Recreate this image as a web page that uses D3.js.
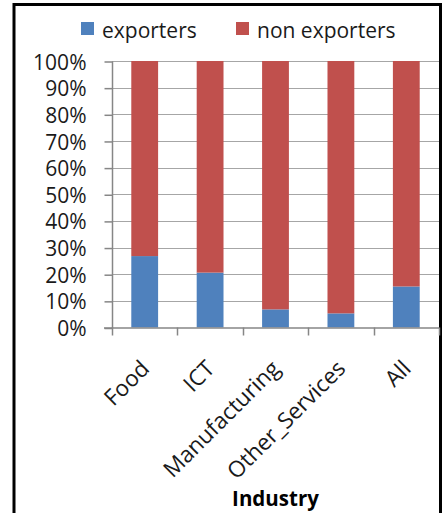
<!DOCTYPE html>
<html>
<head>
<meta charset="utf-8">
<script src="https://cdn.jsdelivr.net/npm/d3@7"></script>
<style>
  html, body { margin: 0; padding: 0; background: #fff; }
  svg { display: block; font-family: "Open Sans", sans-serif; }
</style>
</head>
<body>
<svg id="chart" width="447" height="513"></svg>
<script>
// Share of firms that export, by industry (percent of firms)
const categories = ["Food", "ICT", "Manufacturing", "Other_Services", "All"];
const exporters = [26.8, 20.6, 6.8, 5.3, 15.4];
const nonExporters = [73.2, 79.4, 93.2, 94.7, 84.6];
const seriesNames = ["exporters", "non exporters"];
const yTicks = [0, 10, 20, 30, 40, 50, 60, 70, 80, 90, 100];
const colors = ["#4F81BD", "#C0504D"];

const svg = d3.select("#chart");

// Outer frame
svg.append("rect")
  .attr("x", 14).attr("y", 4.5)
  .attr("width", 426.5).attr("height", 530)
  .attr("fill", "none").attr("stroke", "#000").attr("stroke-width", 3);

const plot = { left: 112, right: 439, top: 61, bottom: 327.5 };

const x = d3.scaleBand()
  .domain(categories)
  .range([plot.left, plot.right])
  .paddingInner(0.59)
  .paddingOuter(0.295);

const y = d3.scaleLinear()
  .domain([0, 100])
  .range([plot.bottom, plot.top]);

// Horizontal gridlines
svg.append("g")
  .selectAll("line")
  .data(yTicks.filter(d => d > 0))
  .join("line")
  .attr("x1", plot.left).attr("x2", plot.right)
  .attr("y1", d => Math.round(y(d)) + 0.5).attr("y2", d => Math.round(y(d)) + 0.5)
  .attr("stroke", "#a6a6a6").attr("stroke-width", 1.2);

// Stacked bars
const rows = categories.map((c, i) => ({ cat: c, values: [exporters[i], nonExporters[i]] }));
const stack = d3.stack().keys([0, 1]).value((d, k) => d.values[k]);
const layers = stack(rows);

svg.append("g")
  .selectAll("g")
  .data(layers)
  .join("g")
  .attr("fill", (d, i) => colors[i])
  .selectAll("rect")
  .data(d => d)
  .join("rect")
  .attr("x", d => x(d.data.cat))
  .attr("width", x.bandwidth())
  .attr("y", d => y(d[1]))
  .attr("height", d => y(d[0]) - y(d[1]));

// Y axis
const yAxis = d3.axisLeft(y)
  .tickValues(yTicks)
  .tickFormat(d => d + "%")
  .tickSize(8)
  .tickPadding(18);

const gy = svg.append("g")
  .attr("transform", `translate(${plot.left + 0.5},0.5)`)
  .call(yAxis);
gy.select(".domain").attr("stroke", "#868686").attr("stroke-width", 1.5)
  .attr("d", `M0,${plot.top}V${plot.bottom}`);
gy.selectAll(".tick line").attr("stroke", "#868686").attr("stroke-width", 1.5);
gy.selectAll(".tick text")
  .attr("font-family", "Open Sans, sans-serif")
  .attr("font-size", 21)
  .attr("fill", "#1a1a1a")
  .attr("dy", "0.36em");

// X axis: tick marks at band boundaries
const boundaries = categories.map(c => x(c) - x.step() * x.paddingInner() / 2)
  .concat([plot.right]);
const gx = svg.append("g");
gx.append("line")
  .attr("x1", plot.left - 8).attr("x2", plot.right)
  .attr("y1", plot.bottom + 0.5).attr("y2", plot.bottom + 0.5)
  .attr("stroke", "#868686").attr("stroke-width", 1.5);
gx.selectAll("line.tk")
  .data(boundaries)
  .join("line")
  .attr("class", "tk")
  .attr("x1", d => Math.round(d) + 0.5).attr("x2", d => Math.round(d) + 0.5)
  .attr("y1", plot.bottom).attr("y2", plot.bottom + 8)
  .attr("stroke", "#868686").attr("stroke-width", 1.5);

// Rotated category labels
gx.selectAll("text")
  .data(categories)
  .join("text")
  .attr("transform", d => `translate(${x(d) + x.bandwidth() / 2 + 6},370) rotate(-45)`)
  .attr("text-anchor", "end")
  .attr("font-size", 22.5)
  .attr("fill", "#1a1a1a")
  .text(d => d);

// Axis title
svg.append("text")
  .attr("x", (plot.left + plot.right) / 2)
  .attr("y", 506)
  .attr("text-anchor", "middle")
  .attr("font-size", 20.5)
  .attr("font-weight", "bold")
  .attr("fill", "#000")
  .text("Industry");

// Legend
const legendX = [81, 236];
const legend = svg.append("g");
const items = legend.selectAll("g")
  .data(seriesNames)
  .join("g")
  .attr("transform", (d, i) => `translate(${legendX[i]},22)`);
items.append("rect")
  .attr("width", 13).attr("height", 13)
  .attr("fill", (d, i) => colors[i]);
items.append("text")
  .attr("x", 21).attr("y", 15.5)
  .attr("font-size", 21)
  .attr("fill", "#1a1a1a")
  .text(d => d);
</script>
</body>
</html>
